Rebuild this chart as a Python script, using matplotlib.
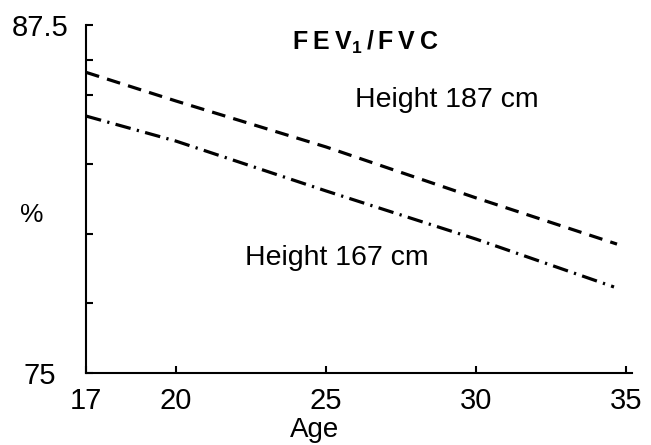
import matplotlib
matplotlib.use("Agg")
import matplotlib.pyplot as plt

plt.rcParams['font.family'] = ['Liberation Sans', 'DejaVu Sans']
plt.rcParams['mathtext.fontset'] = 'custom'
plt.rcParams['mathtext.bf'] = 'Liberation Sans:bold'
plt.rcParams['mathtext.rm'] = 'Liberation Sans'

# FEV1/FVC (%) against age for two heights
age_187 = [17, 20, 25, 30, 34.7]
fev_187 = [85.8, 84.77, 83.12, 81.29, 79.63]
age_167 = [17, 20, 25, 30, 34.6]
fev_167 = [84.23, 83.33, 81.54, 79.81, 78.09]

xticks = [17, 20, 25, 30, 35]
yticks = [75, 77.5, 80, 82.5, 85, 86.25, 87.5]
ylabels = ['75', '', '', '', '', '', '87.5']

fig = plt.figure(figsize=(6.51, 4.45), dpi=100)
ax = fig.add_axes([86/651, 1-373/445, 546/651, 348/445])

ax.plot(age_187, fev_187, color='black', lw=2.3, dashes=[4.3, 2.6])
ax.plot(age_167, fev_167, color='black', lw=2.3, dashes=[4.9, 2.0, 0.7, 2.0])

ax.set_xlim(17, 35.2)
ax.set_ylim(75, 87.5)
ax.spines['top'].set_visible(False)
ax.spines['right'].set_visible(False)
ax.spines['left'].set_linewidth(1.5)
ax.spines['bottom'].set_linewidth(1.5)

ax.set_xticks(xticks)
ax.set_yticks(yticks)
ax.set_yticklabels(ylabels)
ax.tick_params(direction='in', length=5, width=1.5, labelsize=21)
ax.tick_params(axis='x', pad=10)
ax.tick_params(axis='y', pad=33)
for lbl in ax.get_yticklabels():
    lbl.set_horizontalalignment('center')

ax.set_xlabel('Age', fontsize=20)
ax.xaxis.set_label_coords((315 - 86) / 546, -0.165)
ax.xaxis.label.set_va('center')
ax.text(-0.10, 0.455, '%', transform=ax.transAxes, fontsize=19,
        ha='center', va='center')

# letter-spaced bold title with subscript 1
ax.text(0.512, 0.95, r'$\mathbf{F\:E\:V_{1}\,/\,F\:V\:C}$', transform=ax.transAxes,
        fontsize=18, ha='center', va='center')
ax.text(25.95, 84.8, 'Height 187 cm', fontsize=20.5, ha='left', va='center')
ax.text(22.3, 79.13, 'Height 167 cm', fontsize=20.5, ha='left', va='center')

fig.savefig('out.png', dpi=100)
